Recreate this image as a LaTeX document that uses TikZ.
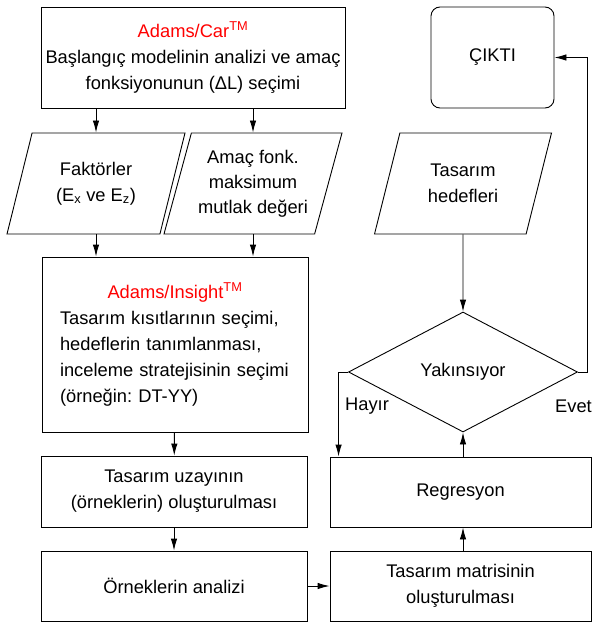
\documentclass[tikz,border=0pt]{standalone}
\usepackage{fontspec}
\setmainfont{Liberation Sans}
\usepackage{tikz}
\usetikzlibrary{shapes.geometric,arrows.meta,positioning}
\frenchspacing

\begin{document}
\begin{tikzpicture}[x=1pt,y=-1pt,
  kutu/.style={draw, line width=0.9pt, minimum width=266pt, minimum height=70pt,
    inner sep=1pt, align=center, font=\fontsize{18.3}{26}\selectfont},
  girdi/.style={draw, line width=0.9pt, trapezium, trapezium left angle=70,
    trapezium right angle=110, trapezium stretches=true, minimum width=178pt,
    minimum height=101pt, inner sep=0pt, align=center,
    font=\fontsize{18.3}{26}\selectfont},
  ok/.style={line width=0.9pt, -{Latex[length=12pt,width=6.5pt]}},
  etiket/.style={font=\fontsize{18.3}{20}\selectfont, inner sep=0pt}]
\useasboundingbox (0,0) rectangle (592,624);

% Sol sütun
\node[kutu, minimum width=304pt, minimum height=101pt] (car) at (193,57.5)
  {\textcolor{red}{Adams/Car\textsuperscript{TM}}\\Başlangıç modelinin analizi ve amaç\\fonksiyonunun (ΔL) seçimi};
\node[girdi] (faktor) at (96,183.5) {Faktörler\\(E\textsubscript{x} ve E\textsubscript{z})};
\node[girdi, font=\fontsize{18.3}{25}\selectfont] (amac) at (253,183.5) {Amaç fonk.\\maksimum\\mutlak değeri};
\node[kutu, minimum height=175pt, text width=230pt, align=left] (insight) at (175,344.5)
  {\hfill\textcolor{red}{Adams/Insight\textsuperscript{TM}}\hfill\null\\Tasarım kısıtlarının seçimi,\\hedeflerin tanımlanması,\\inceleme stratejisinin seçimi\\(örneğin: DT-YY)};
\node[kutu, minimum height=71pt] (uzay) at (174,491.5) {Tasarım uzayının\\(örneklerin) oluşturulması};
\node[kutu] (analiz) at (174,586) {Örneklerin analizi};

% Sağ sütun
\node[kutu, minimum width=123pt, minimum height=101pt, rounded corners=9pt] (cikti) at (492.5,57.5) {ÇIKTI};
\node[girdi] (hedef) at (463,183.5) {Tasarım\\hedefleri};
\node[draw, line width=0.9pt, diamond, minimum width=229pt, minimum height=120pt,
  inner sep=0pt, font=\fontsize{18.3}{20}\selectfont] (karar) at (463,372) {Yakınsıyor};
\node[kutu, minimum width=261pt] (regresyon) at (460.5,492) {Regresyon};
\node[kutu, minimum width=261pt] (matris) at (460.5,586) {Tasarım matrisinin\\oluşturulması};

% Oklar
\draw[ok] (car.south -| faktor.north) -- (faktor.north);
\draw[ok] (car.south -| amac.north) -- (amac.north);
\draw[ok] (faktor.south) -- (insight.north -| faktor.south);
\draw[ok] (amac.south) -- (insight.north -| amac.south);
\draw[ok] (insight) -- (uzay);
\draw[ok] (uzay) -- (analiz);
\draw[ok] (analiz) -- (matris);
\draw[ok] (matris.north -| karar.south) -- (regresyon.south -| karar.south);
\draw[ok] (regresyon.north -| karar.south) -- (karar.south);
\draw[ok] (hedef.south) -- (karar.north);
\coordinate (hayir) at ([xshift=9pt]regresyon.north west);
\draw[ok] (karar.west) -| (hayir);
\draw[ok] (karar.east) -- ++(9,0) |- (cikti.east);

% Etiketler
\node[etiket] (hayirlbl) at (367,406) {Hayır};
\node[etiket, anchor=east] (evetlbl) at (592,406) {Evet};
\end{tikzpicture}
\end{document}
